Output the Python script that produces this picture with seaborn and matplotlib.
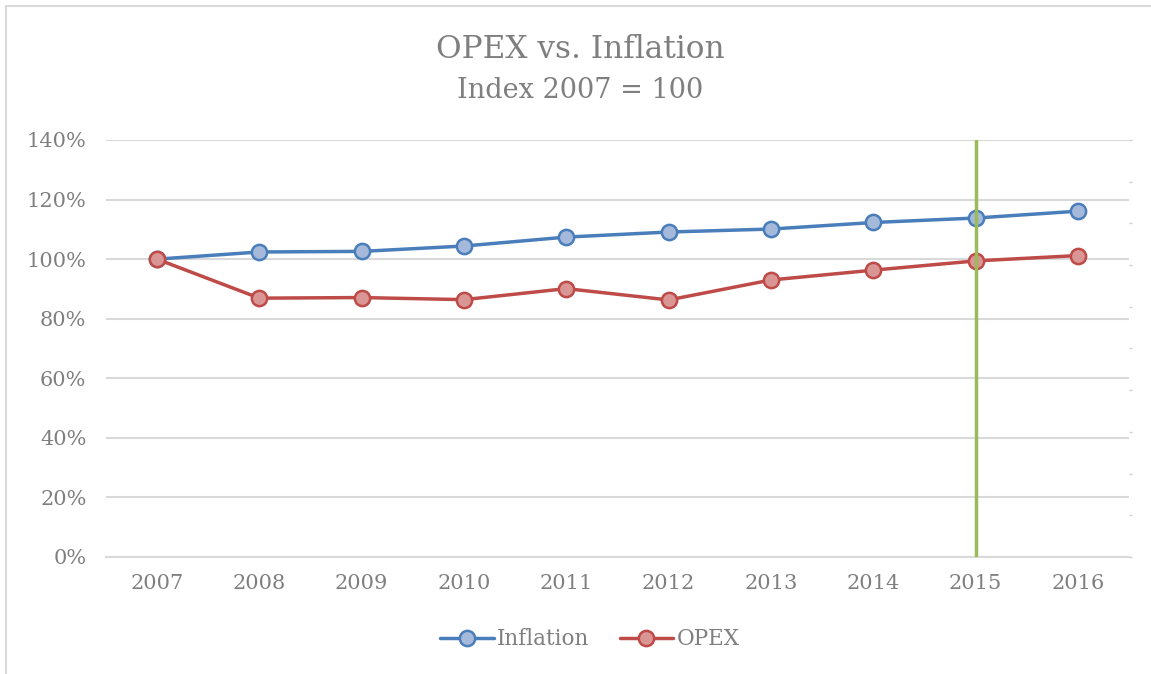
import matplotlib
matplotlib.use("Agg")
import matplotlib.pyplot as plt
import matplotlib.ticker as mticker
import seaborn as sns
import pandas as pd
import numpy as np

years = ["2007", "2008", "2009", "2010", "2011", "2012", "2013", "2014", "2015", "2016"]
inflation = [1.000, 1.024, 1.026, 1.044, 1.074, 1.091, 1.101, 1.123, 1.138, 1.161]
opex = [1.000, 0.869, 0.871, 0.864, 0.901, 0.863, 0.930, 0.963, 0.994, 1.012]
marker_year = "2015"

title = "OPEX vs. Inflation"
subtitle = "Index 2007 = 100"

sns.set_theme(style="white")
plt.rcParams['font.family'] = ['DejaVu Serif']

df = pd.DataFrame({"Year": years * 2,
                   "Value": inflation + opex,
                   "Series": ["Inflation"] * len(years) + ["OPEX"] * len(years)})

fig = plt.figure(figsize=(11.51, 6.74), dpi=100)
ax = fig.add_axes([0.092, 0.1736, 0.889, 0.6187])

line_cols = {"Inflation": "#4a7ebb", "OPEX": "#be4b48"}
fill_cols = {"Inflation": "#a5b9da", "OPEX": "#d99694"}

gray = "#7f7f7f"
ax.set_ylim(0, 1.4)
ax.set_xlim(-0.5, len(years) - 0.5)
ax.yaxis.set_major_locator(mticker.MultipleLocator(0.2))
ax.yaxis.set_major_formatter(mticker.FuncFormatter(lambda v, p: f"{v*100:.0f}%"))
ax.grid(axis="y", color="#d9d9d9", linewidth=1.5)
ax.set_axisbelow(True)

xi = {y: i for i, y in enumerate(years)}

for s in ["Inflation", "OPEX"]:
    sub = df[df.Series == s]
    sns.lineplot(x=sub.Year.map(xi), y=sub.Value, ax=ax, color=line_cols[s], linewidth=2.5,
                 marker="o", markersize=11, markerfacecolor=fill_cols[s],
                 markeredgecolor=line_cols[s], markeredgewidth=1.8, label=s, zorder=3)

ax.axvline(xi[marker_year], ymin=0, ymax=1, color="#9bbb59", linewidth=2.5, zorder=4)

ax.set_xticks(range(len(years)))
ax.set_xticklabels(years)
ax.set_xlabel("")
ax.set_ylabel("")
ax.tick_params(axis="both", labelsize=15, colors=gray, length=0, pad=12)
ax.tick_params(axis="y", pad=14)
for sp in ["top", "right", "left"]:
    ax.spines[sp].set_visible(False)
ax.spines["bottom"].set_color("#d9d9d9")
ax.spines["bottom"].set_linewidth(1.5)

# faint secondary axis ticks on the right
ax2 = ax.twinx()
ax2.set_ylim(0, 1.4)
ax2.set_yticks(np.linspace(0, 1.4, 11))
ax2.tick_params(axis="y", length=2, color="#d0d0d0", labelright=False, width=1)
for sp in ax2.spines.values():
    sp.set_visible(False)

ax.legend(loc="upper center", bbox_to_anchor=(0.473, -0.125), ncol=2, frameon=False,
          fontsize=15.5, labelcolor=gray, handlelength=2.5, handletextpad=0.15, columnspacing=1.4)

fig.text(0.504, 0.926, title, ha="center", va="center", fontsize=22.5, color=gray)
fig.text(0.504, 0.866, subtitle, ha="center", va="center", fontsize=19.5, color=gray)

# chart border
fig.add_artist(plt.Line2D([0.0052, 0.0052], [0, 0.991], color="#d9d9d9", linewidth=1.5))
fig.add_artist(plt.Line2D([0.0052, 1.0], [0.991, 0.991], color="#d9d9d9", linewidth=1.5))

fig.savefig("out.png", dpi=100)
